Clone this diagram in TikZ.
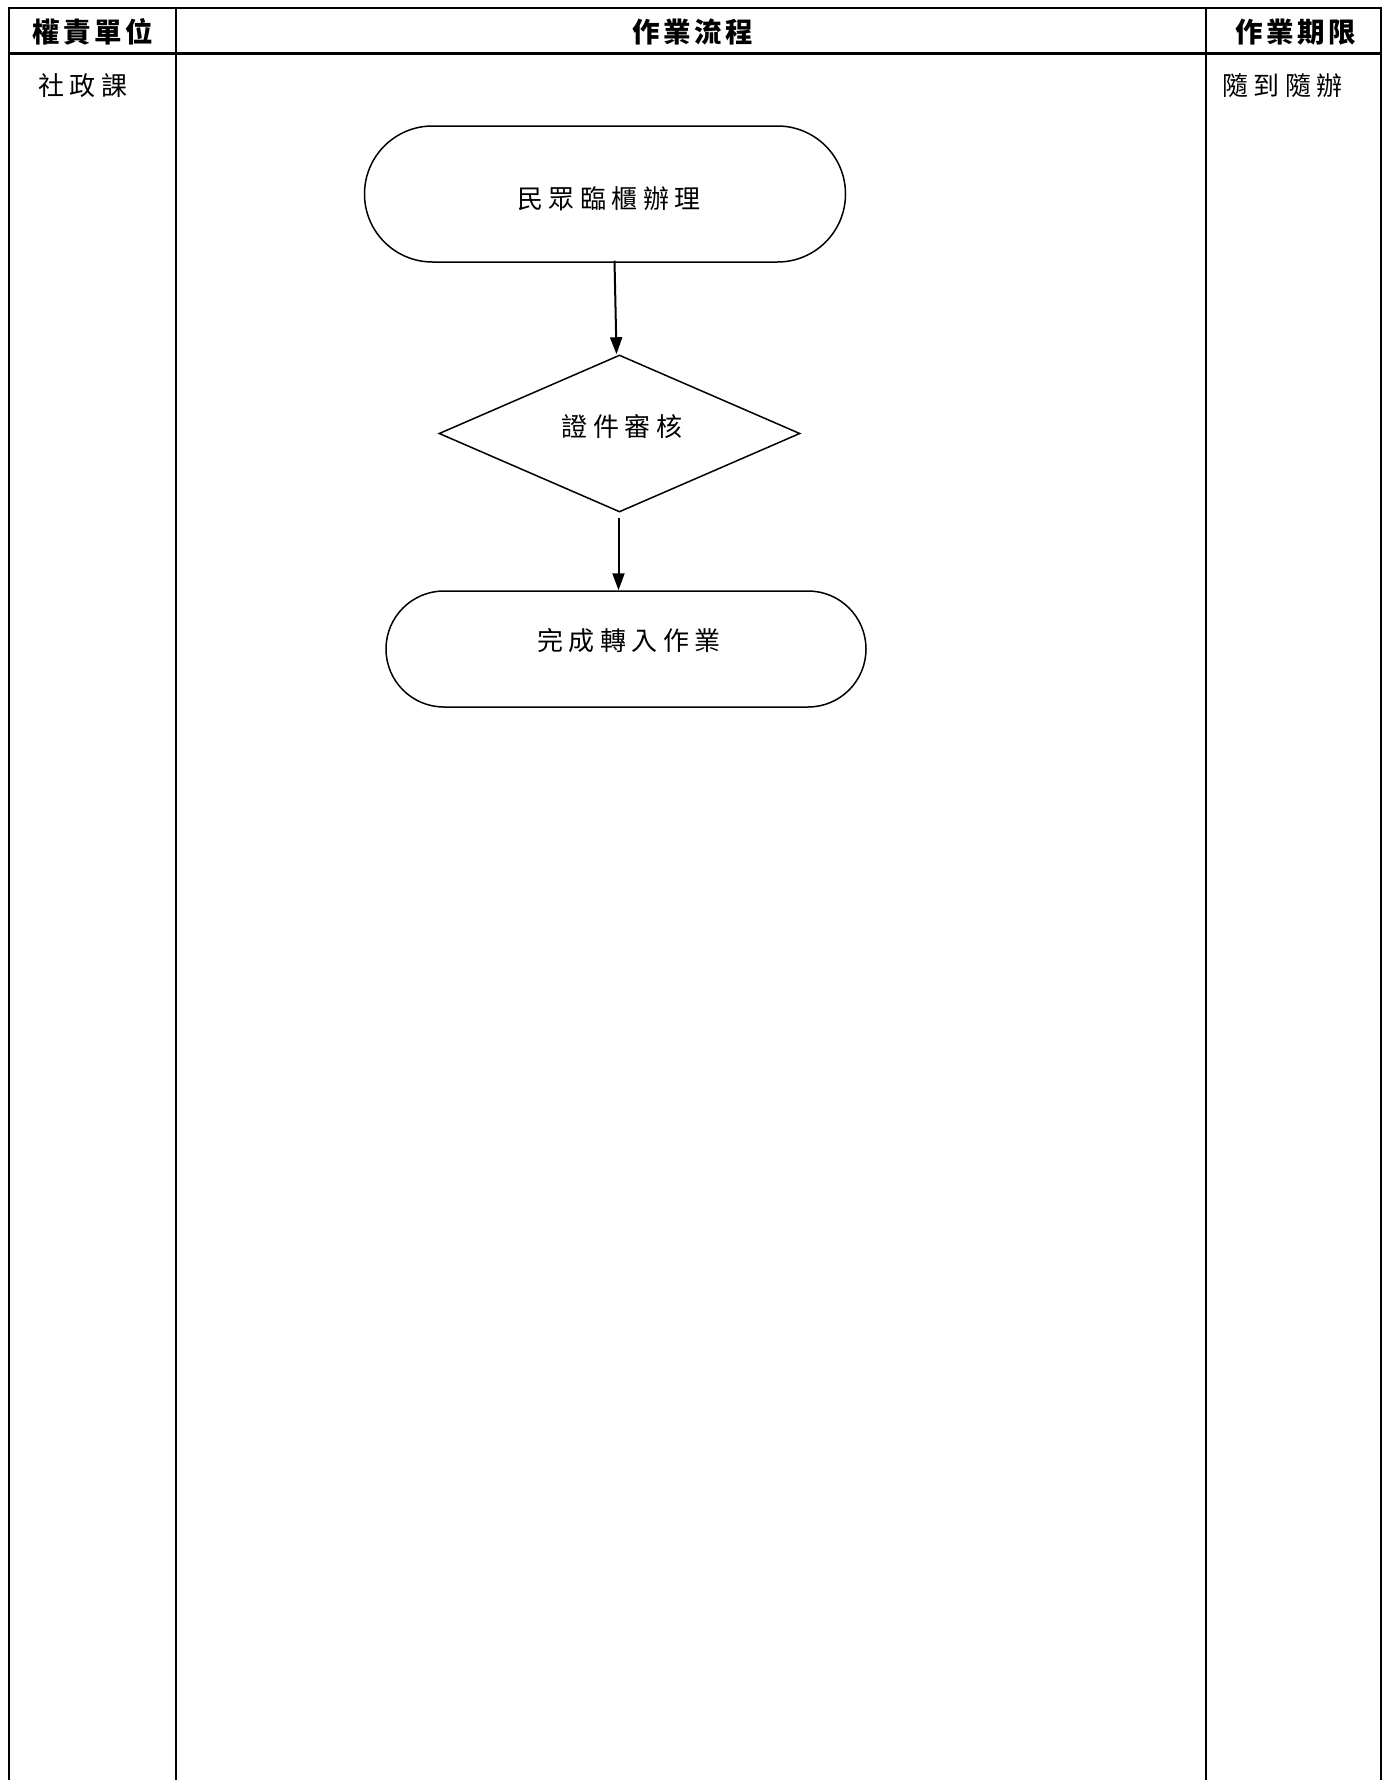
\documentclass[tikz,border=0pt]{standalone}
\usepackage{fontspec}
\usetikzlibrary{shapes.misc,shapes.geometric,arrows.meta}
\newfontfamily\cjk[LetterSpace=21]{Noto Sans CJK TC}
\newfontfamily\cjkhead[LetterSpace=13]{Noto Sans CJK TC}
\tikzset{
  frame/.style={line width=2pt},
  headline/.style={line width=3pt},
  headtxt/.style={font=\cjkhead\bfseries\fontsize{27.5}{30}\selectfont, inner sep=0pt},
  celltxt/.style={font=\cjk\fontsize{26}{30}\selectfont, inner sep=0pt, anchor=west},
  terminal/.style={rounded rectangle, draw, line width=1.5pt, inner sep=0pt},
  decision/.style={diamond, draw, line width=1.5pt, inner sep=0pt},
  flowtxt/.style={font=\cjk\fontsize{26}{30}\selectfont, inner sep=0pt},
  arr/.style={line width=2pt, -{Triangle[length=17pt,width=12pt]}}
}
\begin{document}
\begin{tikzpicture}[x=1pt,y=-1pt]
\useasboundingbox (0,0) rectangle (1384,1780);
% table frame
\coordinate (hl) at (9,53);
\coordinate (hr) at (1381,53);
\draw[frame] (9,1780) -- (9,8) -- (1381,8) -- (1381,1780);
\draw[frame] (176,8) -- (176,1780);
\draw[frame] (1206,8) -- (1206,1780);
\draw[headline] (hl) -- (hr);
% headers
\node[headtxt] (h1) at (93,32) {權責單位};
\node[headtxt] (h2) at (693,32) {作業流程};
\node[headtxt] (h3) at (1296,32) {作業期限};
% cells
\node[celltxt] (unit) at (38,86) {社政課};
\node[celltxt] (limit) at (1222,86) {隨到隨辦};
% flow
\node[terminal, minimum width=481pt, minimum height=136pt] (t1) at (605,194) {};
\node[flowtxt] (t1t) at (609,199) {民眾臨櫃辦理};
\node[decision, minimum width=361pt, minimum height=157pt] (d) at (619.5,433.5) {};
\node[flowtxt] (dt) at (622,427) {證件審核};
\node[terminal, minimum width=480pt, minimum height=116pt] (t2) at (626,649) {};
\node[flowtxt] (t2t) at (629,641) {完成轉入作業};
\draw[arr] ([xshift=-5pt,yshift=2pt]t1.south -| d.north) -- ([xshift=-3pt]d.north);
\draw[arr] ([xshift=-1pt,yshift=-5pt]d.south) -- ([xshift=-1pt]d.south |- t2.north);
\end{tikzpicture}
\end{document}
